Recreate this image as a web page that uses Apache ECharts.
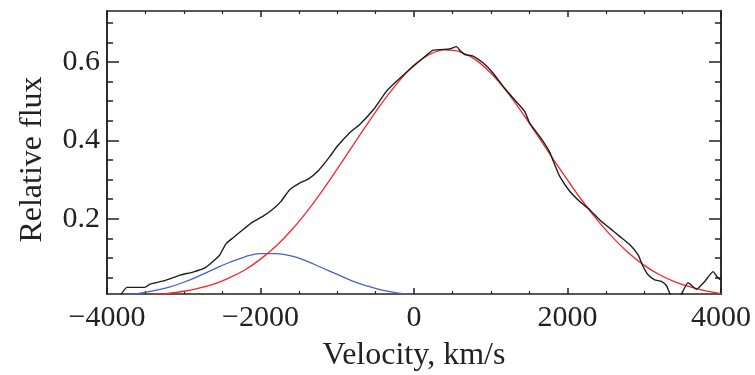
<!DOCTYPE html>
<html>
<head>
<meta charset="utf-8">
<script src="https://cdn.jsdelivr.net/npm/echarts@6/dist/echarts.min.js"></script>
<style>
  html, body { margin: 0; padding: 0; background: #fff; }
  #chartmain { width: 755px; height: 375px; }
</style>
</head>
<body>
<div id="chartmain"></div>
<script>
// observed profile (black)
var obsVel = [-3820, -3740, -3510, -3440, -3380, -3250, -3120, -3050, -2990, -2880, -2730, -2620, -2530, -2450, -2360,
    -2230, -2100, -1970, -1840, -1730, -1620, -1490, -1380, -1250, -1100, -1000, -840, -710, -530, -360, -230, -60,
    120, 250, 465, 552, 610, 661, 769, 899, 1029, 1160, 1290, 1442, 1508, 1638, 1768, 1833, 1899, 2029, 2159, 2289,
    2420, 2550, 2680, 2810, 2920, 2985, 3050, 3136, 3223, 3290, 3332, 3400, 3484, 3570, 3680, 3788, 3896, 3961, 4000];
var obsFlux = [0.006, 0.025, 0.025, 0.033, 0.036, 0.042, 0.051, 0.056, 0.059, 0.064, 0.074, 0.091, 0.108, 0.136, 0.151,
    0.172, 0.192, 0.206, 0.224, 0.245, 0.274, 0.291, 0.301, 0.322, 0.358, 0.385, 0.419, 0.440, 0.478, 0.525, 0.550, 0.580,
    0.610, 0.630, 0.633, 0.639, 0.627, 0.619, 0.615, 0.598, 0.572, 0.538, 0.508, 0.474, 0.444, 0.410, 0.370, 0.338, 0.308, 0.270, 0.244, 0.223,
    0.197, 0.176, 0.155, 0.134, 0.108, 0.078, 0.057, 0.044, 0.040, 0.029, 0.010, -0.010, 0.008, 0.037, 0.020, 0.040, 0.065, 0.049, 0.044];

// main component (red)
var redVel = [-3400, -3200, -3000, -2800, -2600, -2400, -2200, -2000, -1800, -1600, -1400, -1200, -1000, -800, -600, -400,
    -200, 0, 200, 400, 600, 800, 1000, 1200, 1400, 1600, 1800, 2000, 2200, 2400, 2600, 2800, 3000, 3200, 3400, 3600, 3800, 4000];
var redFlux = [0.006, 0.0097, 0.015, 0.023, 0.034, 0.050, 0.070, 0.097, 0.130, 0.170, 0.217, 0.270, 0.327, 0.386, 0.444, 0.500,
    0.550, 0.592, 0.619, 0.631, 0.626, 0.606, 0.572, 0.527, 0.473, 0.415, 0.356, 0.299, 0.244, 0.194, 0.150, 0.112, 0.081, 0.057, 0.039, 0.026, 0.016, 0.009];

// blue-shifted component (blue)
var blueVel = [-3800, -3600, -3400, -3200, -3000, -2800, -2600, -2400, -2200, -2000, -1800, -1600, -1400, -1200, -1000,
    -800, -600, -400, -200, 0];
var blueFlux = [0.005, 0.009, 0.016, 0.025, 0.038, 0.054, 0.072, 0.089, 0.103, 0.111, 0.111, 0.105, 0.092, 0.075, 0.058,
    0.041, 0.028, 0.017, 0.010, 0.0055];

var yMajor = [0.2, 0.4, 0.6];
var yMinor = [0.05, 0.1, 0.15, 0.25, 0.3, 0.35, 0.45, 0.5, 0.55, 0.65, 0.7];

function pairs(xs, ys) {
    var out = [];
    for (var i = 0; i < xs.length; i++) out.push([xs[i], ys[i]]);
    return out;
}

var serif = "'Liberation Serif', 'Times New Roman', serif";
var ink = '#222';

function xAx(pos, labels) {
    return {
        type: 'value', position: pos, min: -4000, max: 4000, interval: 2000,
        name: labels ? 'Velocity, km/s' : '', nameLocation: 'middle', nameGap: 46,
        nameTextStyle: { fontFamily: serif, fontSize: 32, color: ink },
        axisLine: { show: true, onZero: false, lineStyle: { color: ink, width: 1.5 } },
        axisTick: { show: true, inside: true, length: 6, lineStyle: { color: ink, width: 1.5 } },
        minorTick: { show: true, splitNumber: 4, length: 3, lineStyle: { color: ink, width: 1.2 } },
        axisLabel: {
            show: labels, margin: 9, fontFamily: serif, fontSize: 30, color: ink,
            formatter: function (v) { return String(v).replace('-', '\u2212'); }
        },
        splitLine: { show: false }
    };
}

function yAx(pos, vals, len, labels) {
    return {
        type: 'value', position: pos, min: 0.008, max: 0.73,
        name: labels ? 'Relative flux' : '', nameLocation: 'middle', nameGap: 58,
        nameTextStyle: { fontFamily: serif, fontSize: 32, color: ink, padding: [0, 14, 0, 0] },
        axisLine: { show: true, onZero: false, lineStyle: { color: ink, width: 1.5 } },
        axisTick: { show: true, inside: true, length: len, customValues: vals, lineStyle: { color: ink, width: 1.5 } },
        axisLabel: {
            show: labels, margin: 7, fontFamily: serif, fontSize: 30, color: ink,
            customValues: yMajor,
            formatter: function (v) { return v.toFixed(1); }
        },
        splitLine: { show: false }
    };
}

var option = {
    animation: false,
    backgroundColor: '#fff',
    grid: { left: 107, right: 34, top: 11, bottom: 81, containLabel: false, outerBoundsMode: 'none' },
    xAxis: [xAx('bottom', true), xAx('top', false)],
    yAxis: [
        yAx('left', yMajor, 12, true),
        yAx('left', yMinor, 6, false),
        yAx('right', yMajor, 12, false),
        yAx('right', yMinor, 6, false)
    ],
    series: [
        {
            type: 'line', name: 'blue', data: pairs(blueVel, blueFlux), smooth: 0.4, showSymbol: false,
            lineStyle: { color: '#4a62c0', width: 1.3 }, clip: true, z: 2
        },
        {
            type: 'line', name: 'red', data: pairs(redVel, redFlux), smooth: 0.4, showSymbol: false,
            lineStyle: { color: '#f5262b', width: 1.3 }, clip: true, z: 3
        },
        {
            type: 'line', name: 'obs', data: pairs(obsVel, obsFlux), smooth: 0.15, showSymbol: false,
            lineStyle: { color: '#1e1e1e', width: 1.4 }, clip: true, z: 4
        }
    ]
};

var myChart = echarts.init(document.getElementById('chartmain'));
myChart.setOption(option);
</script>
</body>
</html>
